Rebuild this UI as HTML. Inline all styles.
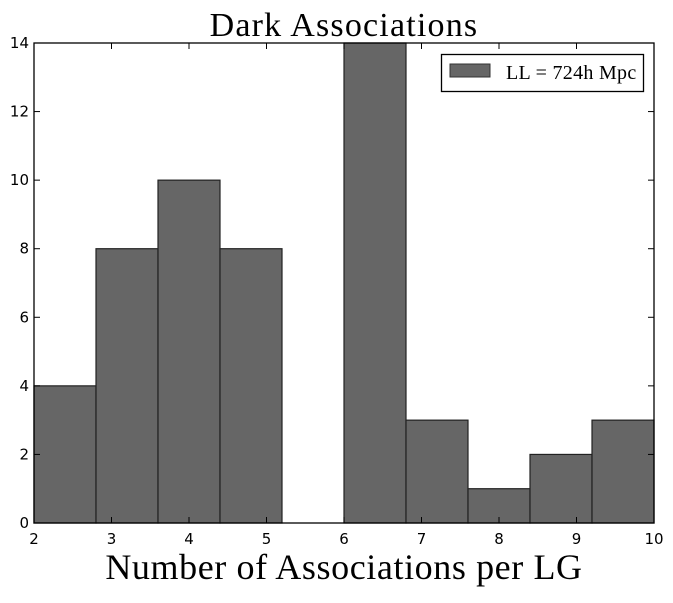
<!DOCTYPE html>
<html><head><meta charset="utf-8"><style>
body{margin:0;background:#fff;}
svg text{font-family:"DejaVu Sans",sans-serif;}
.serif{font-family:"Liberation Serif",serif !important;}
</style></head><body>
<svg id="chart" width="673" height="598" xmlns="http://www.w3.org/2000/svg">
<text class="serif" x="344" y="36" font-size="34" letter-spacing="1.2" text-anchor="middle">Dark Associations</text>
<text class="serif" x="344" y="579" font-size="36" letter-spacing="0.6" text-anchor="middle">Number of Associations per LG</text>
<g id="bars"></g>
<g id="ticks"></g>
<rect x="34" y="43" width="620" height="480" fill="none" stroke="#000" stroke-width="1.3"/>
<g>
<rect x="441.5" y="54.5" width="202" height="37" fill="#fff" stroke="#000" stroke-width="1.3"/>
<rect x="450" y="64" width="40" height="13" fill="#666" stroke="#333"/>
<text class="serif" x="506" y="79" font-size="20" letter-spacing="0.3">LL = 724h Mpc</text>
</g>
</svg>
<script>
const binStarts=[2,2.8,3.6,4.4,5.2,6.0,6.8,7.6,8.4,9.2];
const binWidth=0.8;
const counts=[4,8,10,8,0,14,3,1,2,3];
const xTicks=[2,3,4,5,6,7,8,9,10];
const yTicks=[0,2,4,6,8,10,12,14];
const L=34,R=654,T=43,B=523;
const xs=v=>L+(v-2)/8*(R-L);
const ys=v=>B-v/14*(B-T);
const NS='http://www.w3.org/2000/svg';
const bars=document.getElementById('bars'),ticks=document.getElementById('ticks');
function mk(tag,attrs,parent){const e=document.createElementNS(NS,tag);for(const k in attrs)e.setAttribute(k,attrs[k]);parent.appendChild(e);return e;}
counts.forEach((c,i)=>{if(c<=0)return;
const r=mk('rect',{x:xs(binStarts[i]),y:ys(c),width:xs(binStarts[i]+binWidth)-xs(binStarts[i]),height:ys(0)-ys(c),fill:'#666',stroke:'#222','stroke-width':1.2},bars);


});
xTicks.forEach(t=>{const x=xs(t);
mk('line',{x1:x,x2:x,y1:B,y2:B-6,stroke:'#000'},ticks);
mk('line',{x1:x,x2:x,y1:T,y2:T+6,stroke:'#000'},ticks);
const tx=mk('text',{x:x,y:B+21,'font-size':15,'text-anchor':'middle'},ticks);tx.textContent=t;


});
yTicks.forEach(t=>{const y=ys(t);
mk('line',{x1:L,x2:L+6,y1:y,y2:y,stroke:'#000'},ticks);
mk('line',{x1:R,x2:R-6,y1:y,y2:y,stroke:'#000'},ticks);
const tx=mk('text',{x:L-5,y:y+5,'font-size':15,'text-anchor':'end'},ticks);tx.textContent=t;


});
</script>
</body></html>
